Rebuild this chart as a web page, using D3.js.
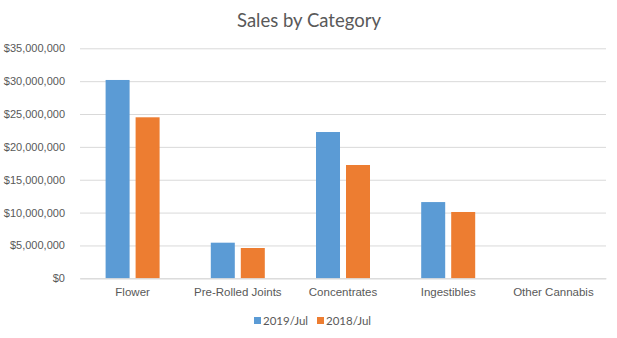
<!DOCTYPE html>
<html><head><meta charset="utf-8">
<script src="https://cdn.jsdelivr.net/npm/d3@7"></script>
<style>body{margin:0;background:#fff;} svg{display:block;font-family:Lato,"Open Sans",sans-serif;}</style>
</head><body>
<script>
const categories = ["Flower","Pre-Rolled Joints","Concentrates","Ingestibles","Other Cannabis"];
const seriesNames = ["2019/Jul","2018/Jul"];
const sales2019 = [30180000, 5420000, 22260000, 11600000, 0];
const sales2018 = [24500000, 4610000, 17240000, 10090000, 0];
const yTicks = [0,5000000,10000000,15000000,20000000,25000000,30000000,35000000];
const colors = ["#5B9BD5","#ED7D31"];

const W=617,H=338;
const svg=d3.select("body").append("svg").attr("width",W).attr("height",H);
const m={l:80,r:11,t:48.3,b:59.7};
const x=d3.scaleBand().domain(categories).range([m.l,W-m.r]).paddingInner(0).paddingOuter(0);
const y=d3.scaleLinear().domain([0,35000000]).range([H-m.b,m.t]);
const bw=x.bandwidth();
const x1=d3.scaleBand().domain(seriesNames).range([bw/2-27,bw/2+27]).paddingInner(0.2).paddingOuter(0);
const fmt=d=>"$"+d3.format(",")(d);

svg.append("text").attr("x",309).attr("y",27).attr("text-anchor","middle")
  .attr("fill","#595959").style("font-size","18.5px").text("Sales by Category");

const yAxis=svg.append("g").attr("transform",`translate(${m.l},0)`)
  .call(d3.axisLeft(y).tickValues(yTicks).tickFormat(fmt).tickSize(-(W-m.l-m.r)).tickPadding(15));
yAxis.select(".domain").remove();
yAxis.selectAll("line").attr("stroke","#D9D9D9").attr("stroke-width",1);
yAxis.selectAll("text").attr("fill","#595959").style("font-size","11px");

const data=categories.map((c,i)=>({c,vals:[sales2019[i],sales2018[i]]}));
const g=svg.append("g");
data.forEach(d=>{
  g.selectAll(null).data(seriesNames.map((s,j)=>({s,v:d.vals[j],j}))).enter().append("rect")
   .attr("x",e=>x(d.c)+x1(e.s)).attr("width",x1.bandwidth())
   .attr("y",e=>y(e.v)).attr("height",e=>y(0)-y(e.v)).attr("fill",e=>colors[e.j]);
});

const xAxis=svg.append("g").attr("transform",`translate(0,${H-m.b})`)
  .call(d3.axisBottom(x).tickSize(0).tickPadding(10));
xAxis.select(".domain").attr("stroke","#D9D9D9");
xAxis.selectAll("text").attr("fill","#595959").style("font-size","11.5px");

const leg=svg.append("g");
const lx=[254,317];
seriesNames.forEach((s,i)=>{
  leg.append("rect").attr("x",lx[i]).attr("y",317).attr("width",7).attr("height",7).attr("fill",colors[i]);
  leg.append("text").attr("x",lx[i]+9).attr("y",325).attr("fill","#595959").style("font-size","11.5px").text(s);
});
</script>
</body></html>
